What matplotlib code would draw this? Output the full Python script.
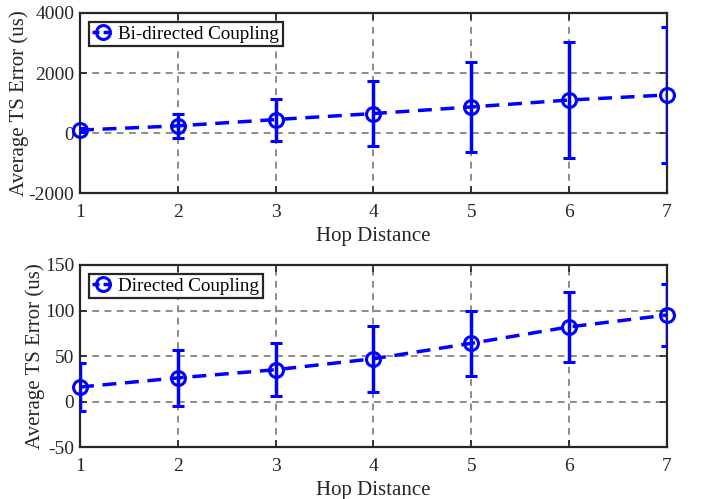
import matplotlib
matplotlib.use("Agg")
import matplotlib.pyplot as plt
from matplotlib.lines import Line2D

plt.rcParams['font.family'] = ['Liberation Serif', 'DejaVu Serif']
plt.rcParams['axes.unicode_minus'] = False

hops = [1, 2, 3, 4, 5, 6, 7]
bi_mean = [100, 240, 450, 650, 870, 1100, 1270]
bi_std = [60, 390, 700, 1080, 1500, 1930, 2270]
di_mean = [16, 26, 35, 47, 64, 82, 95]
di_std = [26, 31, 29, 36, 36, 38, 34]

fig = plt.figure(figsize=(7.05, 4.99), dpi=100)
ax1 = fig.add_axes([0.1135, 0.613, 0.8325, 0.361])
ax2 = fig.add_axes([0.1135, 0.104, 0.8325, 0.365])

BLUE = '#0000ff'
DARK = '#262626'

def style(ax, mean, std, label, ylim, yticks):
    cont = ax.errorbar(hops, mean, yerr=std, color=BLUE, ls='--', lw=2.5,
                       marker='o', ms=10, mfc='none', mew=2.2, capsize=4.5,
                       elinewidth=2.5, capthick=2.5, dashes=(4, 2.5), zorder=3)
    cont.lines[0].set_clip_on(False)
    ax.set_xlim(1, 7)
    ax.set_ylim(*ylim)
    ax.set_xticks(hops)
    ax.set_yticks(yticks)
    ax.grid(True, ls=(0, (3.5, 2.8)), color='#8c8c8c', lw=1.4)
    ax.tick_params(direction='in', top=True, right=True, labelsize=14,
                   length=5, width=1.2, colors=DARK, labelcolor=DARK)
    ax.tick_params(axis='x', pad=8)
    ax.tick_params(axis='y', pad=4)
    for s in ax.spines.values():
        s.set_linewidth(1.6)
        s.set_color(DARK)
    ax.set_xlabel('Hop Distance', fontsize=15, color=DARK, labelpad=4)
    ax.set_ylabel('Average TS Error (us)', fontsize=15, color=DARK, labelpad=0)
    handle = Line2D([], [], color=BLUE, ls='--', lw=2.5, dashes=(2, 1.2),
                    marker='o', ms=10, mfc='none', mew=2.2)
    leg = ax.legend([handle], [label], loc='upper left', fontsize=13.7, fancybox=False,
                    framealpha=1, edgecolor=DARK, handlelength=1.1, handletextpad=0.25,
                    borderpad=0.2, borderaxespad=0.45)
    leg.get_frame().set_linewidth(1.6)
    leg.set_zorder(5)

style(ax1, bi_mean, bi_std, 'Bi-directed Coupling', (-2000, 4000), [-2000, 0, 2000, 4000])
style(ax2, di_mean, di_std, 'Directed Coupling', (-50, 150), [-50, 0, 50, 100, 150])

fig.savefig('out.png', dpi=100)
